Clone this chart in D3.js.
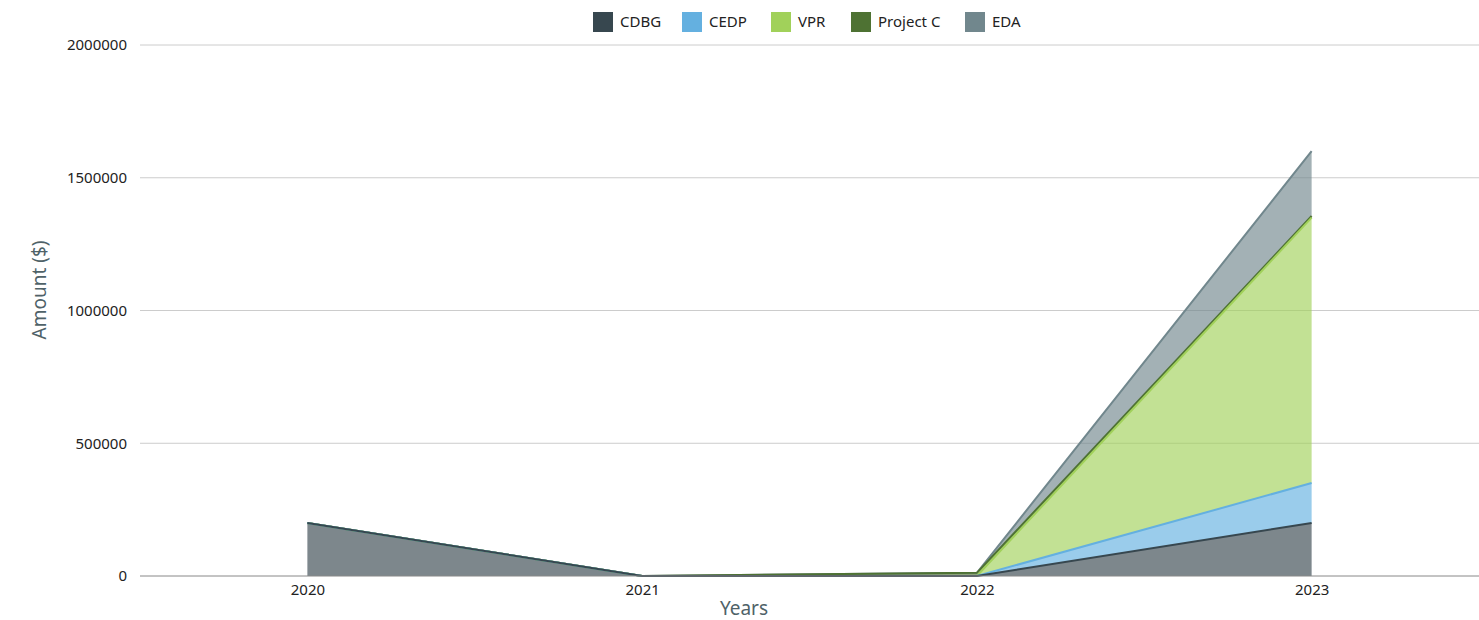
<!DOCTYPE html>
<html>
<head>
<meta charset="utf-8">
<script src="https://cdn.jsdelivr.net/npm/d3@7"></script>
<style>
  body { margin: 0; background: #fff; font-family: "Noto Sans", sans-serif; }
  .grid line { stroke: #ccc; }
</style>
</head>
<body>
<svg id="chart" width="1479" height="620"></svg>
<script>
// data
var years = ['2020', '2021', '2022', '2023'];
var seriesNames = ['CDBG', 'CEDP', 'VPR', 'Project C', 'EDA'];
var cdbg     = [200000, 0, 0, 200000];
var cedp     = [0, 0, 0, 150000];
var vpr      = [0, 0, 0, 1000000];
var projectC = [0, 0, 12000, 6000];
var eda      = [0, 0, 0, 244000];
var yTicks   = [0, 500000, 1000000, 1500000, 2000000];

var colors = ['#37474f', '#64b0e0', '#a1d15a', '#4e7233', '#71878d'];

var rows = years.map(function(y, i) {
    return { year: y, 'CDBG': cdbg[i], 'CEDP': cedp[i], 'VPR': vpr[i], 'Project C': projectC[i], 'EDA': eda[i] };
});

var margin = {top: 45, right: 0, bottom: 44, left: 140};
var width = 1479, height = 620;

var svg = d3.select('#chart');

var x = d3.scalePoint().domain(years).range([margin.left, width - margin.right]).padding(0.5);
var y = d3.scaleLinear().domain([0, 2000000]).range([height - margin.bottom, margin.top]);

// gridlines
svg.append('g')
    .attr('class', 'grid')
    .selectAll('line')
    .data(yTicks.slice(1))
    .enter().append('line')
    .attr('x1', margin.left).attr('x2', width)
    .attr('y1', function(d) { return y(d); })
    .attr('y2', function(d) { return y(d); });

var stack = d3.stack().keys(seriesNames);
var layers = stack(rows);

var area = d3.area()
    .x(function(d) { return x(d.data.year); })
    .y0(function(d) { return y(d[0]); })
    .y1(function(d) { return y(d[1]); });

var topLine = d3.line()
    .x(function(d) { return x(d.data.year); })
    .y(function(d) { return y(d[1]); });

var g = svg.append('g');
g.selectAll('path.area')
    .data(layers)
    .enter().append('path')
    .attr('class', 'area')
    .attr('d', area)
    .style('fill', function(d, i) { return colors[i]; })
    .style('fill-opacity', 0.65);

// edges drawn top series first so lower series stay visible where they touch
g.selectAll('path.edge')
    .data(layers.slice().reverse())
    .enter().append('path')
    .attr('class', 'edge')
    .attr('d', topLine)
    .style('fill', 'none')
    .style('stroke', function(d) { return colors[d.index]; })
    .style('stroke-width', 2);

// y axis
var yAxis = d3.axisLeft(y).tickValues(yTicks).tickSize(0).tickPadding(13).tickFormat(d3.format('d'));
svg.append('g')
    .attr('transform', 'translate(' + margin.left + ',0)')
    .call(yAxis)
    .call(function(s) {
        s.select('.domain').remove();
        s.attr('font-family', null).attr('font-size', null);
        s.selectAll('text').style('font-size', '15px').style('fill', '#222');
    });

// x axis
var xAxis = d3.axisBottom(x).tickSize(0).tickPadding(8);
var xg = svg.append('g')
    .attr('transform', 'translate(0,' + y(0) + ')')
    .call(xAxis);
xg.attr('font-family', null).attr('font-size', null);
xg.selectAll('text').style('font-size', '15px').style('fill', '#222');
xg.select('.domain').remove();
xg.append('line')
    .attr('x1', margin.left).attr('x2', width)
    .style('stroke', '#888');

// axis titles
svg.append('text')
    .attr('x', 744)
    .attr('y', 615)
    .attr('text-anchor', 'middle')
    .style('font-size', '19px')
    .style('fill', '#4f6268')
    .text('Years');

svg.append('text')
    .attr('transform', 'translate(46,290) rotate(-90)')
    .attr('text-anchor', 'middle')
    .style('font-size', '19px')
    .style('fill', '#4f6268')
    .text('Amount ($)');

// legend
var legendX = [593, 682, 771, 851, 965];
var legend = svg.append('g').selectAll('g')
    .data(seriesNames)
    .enter().append('g')
    .attr('transform', function(d, i) { return 'translate(' + legendX[i] + ',12)'; });
legend.append('rect')
    .attr('width', 20).attr('height', 20)
    .style('fill', function(d, i) { return colors[i]; });
legend.append('text')
    .attr('x', 27).attr('y', 15)
    .style('font-size', '15px')
    .style('fill', '#222')
    .text(function(d) { return d; });
</script>
</body>
</html>
